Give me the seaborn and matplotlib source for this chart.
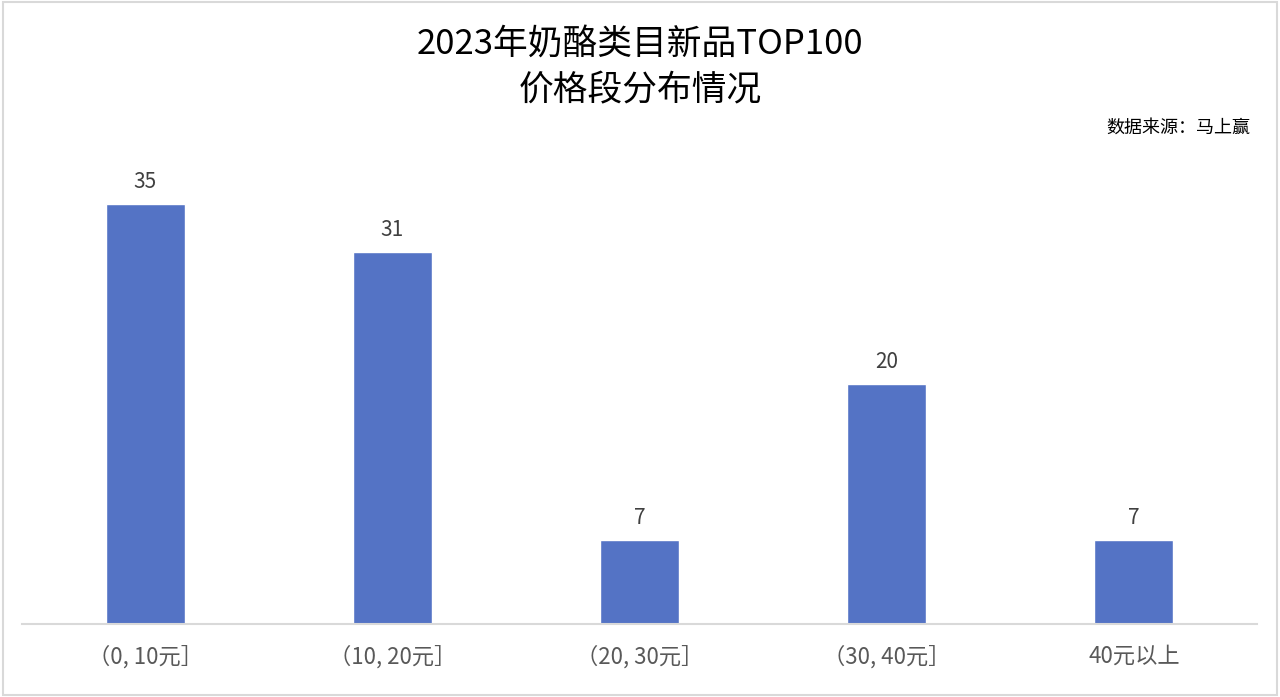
import numpy as np
import pandas as pd
from matplotlib import pyplot as plt
from matplotlib.patches import Rectangle
import seaborn as sns

# 价格段及新品数量
price_ranges = ['（0, 10元］', '（10, 20元］', '（20, 30元］', '（30, 40元］', '40元以上']
counts = [35, 31, 7, 20, 7]

title_text = '2023年奶酪类目新品TOP100\n价格段分布情况'
source_text = '数据来源：马上赢'

sns.set_theme(style='white')
plt.rcParams['font.family'] = ['Noto Sans CJK SC', 'DejaVu Sans']

df = pd.DataFrame({'price': price_ranges, 'count': counts})

fig = plt.figure(figsize=(12.8, 6.97), dpi=100)
ax = fig.add_axes([0.0168, 0.1047, 0.9656, 0.6887])

sns.barplot(data=df, x='price', y='count', color='#5473C5', width=0.32,
            saturation=1, ax=ax)

ax.set_ylim(0, 40)
ax.set_xlim(-0.5, len(price_ranges) - 0.5)

# 数值标签
for container in ax.containers:
    ax.bar_label(container, padding=8, fontsize=15, color='#404040')

ax.set_xlabel('')
ax.set_ylabel('')
ax.set_yticks([])
ax.tick_params(axis='x', labelsize=16, colors='#595959', length=0, pad=15)

sns.despine(ax=ax, left=True, top=True, right=True)
ax.spines['bottom'].set_color('#D9D9D9')
ax.spines['bottom'].set_linewidth(1.5)

# 标题与数据来源
fig.text(0.5, 0.903, title_text, ha='center', va='center', fontsize=25,
         color='black', linespacing=1.45)
fig.text(0.977, 0.817, source_text, ha='right', va='center', fontsize=13,
         color='black')

# 外边框
fig.patches.append(Rectangle((0.002, 0.003), 0.996, 0.994, transform=fig.transFigure,
                             fill=False, edgecolor='#D9D9D9', linewidth=1.5))

fig.savefig('out.png', dpi=100)
plt.close(fig)
